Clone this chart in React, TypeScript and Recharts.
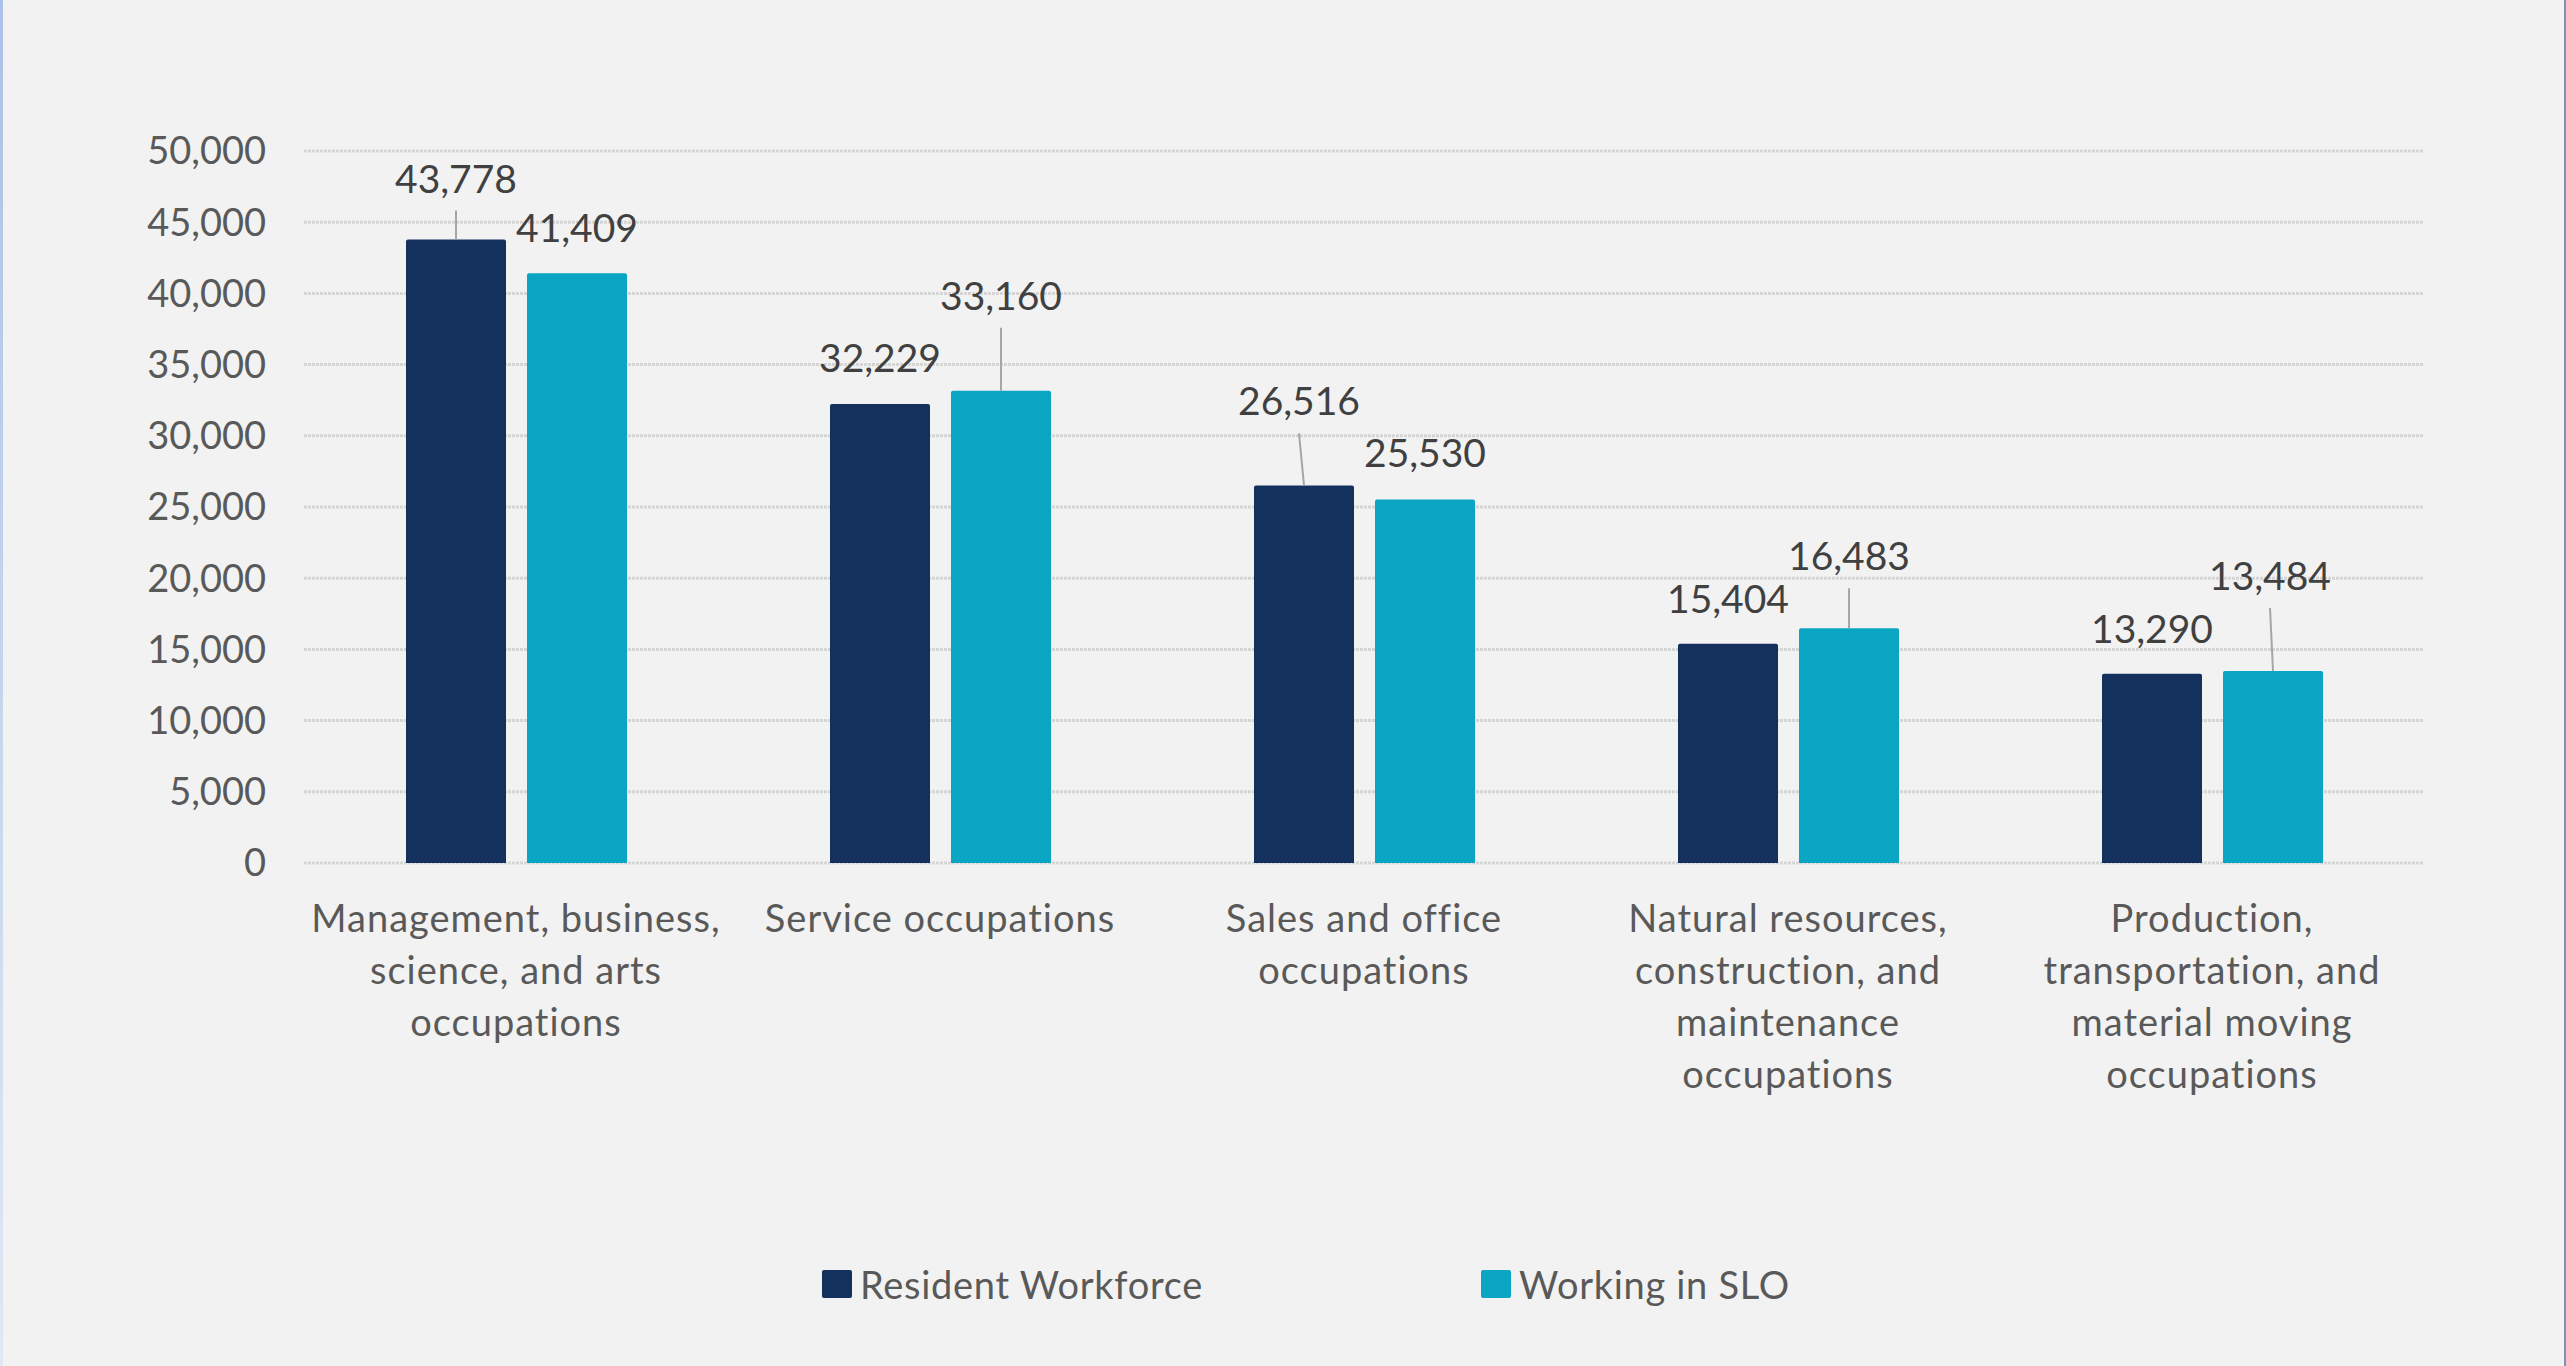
import { Bar, BarChart, CartesianGrid, LabelList, Legend, XAxis, YAxis } from "recharts"

const categories = [
  "Management, business,\nscience, and arts\noccupations",
  "Service occupations",
  "Sales and office\noccupations",
  "Natural resources,\nconstruction, and\nmaintenance\noccupations",
  "Production,\ntransportation, and\nmaterial moving\noccupations",
]
const residentWorkforce = [43778, 32229, 26516, 15404, 13290]
const workingInSlo = [41409, 33160, 25530, 16483, 13484]
const yTicks = [0, 5000, 10000, 15000, 20000, 25000, 30000, 35000, 40000, 45000, 50000]

// where each data label sits relative to its bar top (Excel dragged some up, with a leader line)
const residentLift = [61, 46, 84, 45, 45]
const sloLift = [45, 95, 46, 72, 95]
const residentShift = [0, 0, -5, 0, 0]
const sloShift = [0, 0, 0, 0, -3]

const NAVY = "#13315c"
const TEAL = "#0ba5c4"
const FONT = "Lato, 'Open Sans', sans-serif"

const data = categories.map((category, i) => ({
  category,
  resident: residentWorkforce[i],
  slo: workingInSlo[i],
}))

function makeLabel(lifts: number[], shifts: number[]) {
  return (props: any) => {
    const { x, y, width, value, index } = props
    const cx = Number(x) + Number(width) / 2
    const top = Number(y)
    const lift = lifts[index]
    const lx = cx + shifts[index]
    const cy = top - lift
    return (
      <g>
        {lift > 55 && (
          <line x1={lx} x2={cx} y1={cy + 32} y2={top} stroke="#a6a6a6" strokeWidth={2} />
        )}
        <text x={lx} y={cy + 14} textAnchor="middle" fill="#404040" fontSize={39} fontFamily={FONT}>
          {Number(value).toLocaleString("en-US")}
        </text>
      </g>
    )
  }
}

function CategoryTick({ x, y, payload }: any) {
  const lines = String(payload.value).split("\n")
  return (
    <text x={x} y={y} textAnchor="middle" fill="#595959" fontSize={38} letterSpacing={1} fontFamily={FONT}>
      {lines.map((line, i) => (
        <tspan key={i} x={x} dy={i === 0 ? 69 : 52}>
          {line}
        </tspan>
      ))}
    </text>
  )
}

function LegendContent({ payload }: any) {
  return (
    <div
      style={{
        display: "flex",
        alignItems: "center",
        paddingLeft: 822,
        gap: 278,
        height: 50,
        fontFamily: FONT,
        fontSize: 38,
        letterSpacing: 0.7,
        color: "#595959",
      }}
    >
      {(payload || []).map((item: any) => (
        <div key={item.value} style={{ display: "flex", alignItems: "center", gap: 8 }}>
          <span style={{ width: 30, height: 28, background: item.color, borderRadius: 2, display: "inline-block" }} />
          <span>{item.value}</span>
        </div>
      ))}
    </div>
  )
}

export default function App() {
  return (
    <div style={{ position: "absolute", left: 0, top: 0, width: 2566, height: 1366, background: "#f2f2f2" }}>
      <BarChart
        width={2566}
        height={1366}
        data={data}
        margin={{ top: 151, right: 142, bottom: 0, left: 0 }}
        barSize={100}
        barGap={21}
      >
        <CartesianGrid vertical={false} stroke="#d5d5d5" strokeWidth={3} strokeDasharray="3 1" />
        <XAxis
          dataKey="category"
          height={503}
          axisLine={false}
          tickLine={false}
          tickSize={0}
          tickMargin={0}
          interval={0}
          tick={<CategoryTick />}
        />
        <YAxis
          width={304}
          domain={[0, 50000]}
          ticks={yTicks}
          axisLine={false}
          tickLine={false}
          tickSize={0}
          tickMargin={38}
          tick={{ fill: "#595959", fontSize: 38, fontFamily: FONT }}
          tickFormatter={(v) => Number(v).toLocaleString("en-US")}
        />
        <Legend
          layout="horizontal"
          verticalAlign="middle"
          align="center"
          wrapperStyle={{ top: 1259, left: 0, width: 2566 }}
          content={<LegendContent />}
        />
        <Bar dataKey="resident" name="Resident Workforce" fill={NAVY} radius={[2, 2, 0, 0]} isAnimationActive={false}>
          <LabelList dataKey="resident" content={makeLabel(residentLift, residentShift)} />
        </Bar>
        <Bar dataKey="slo" name="Working in SLO" fill={TEAL} radius={[2, 2, 0, 0]} isAnimationActive={false}>
          <LabelList dataKey="slo" content={makeLabel(sloLift, sloShift)} />
        </Bar>
      </BarChart>
      <div
        style={{
          position: "absolute",
          left: 0,
          top: 0,
          width: 3,
          height: 1366,
          background: "linear-gradient(#aac2e6, #dfe8f4)",
        }}
      />
      <div style={{ position: "absolute", right: 0, top: 0, width: 2, height: 1366, background: "#8093ae" }} />
    </div>
  )
}
